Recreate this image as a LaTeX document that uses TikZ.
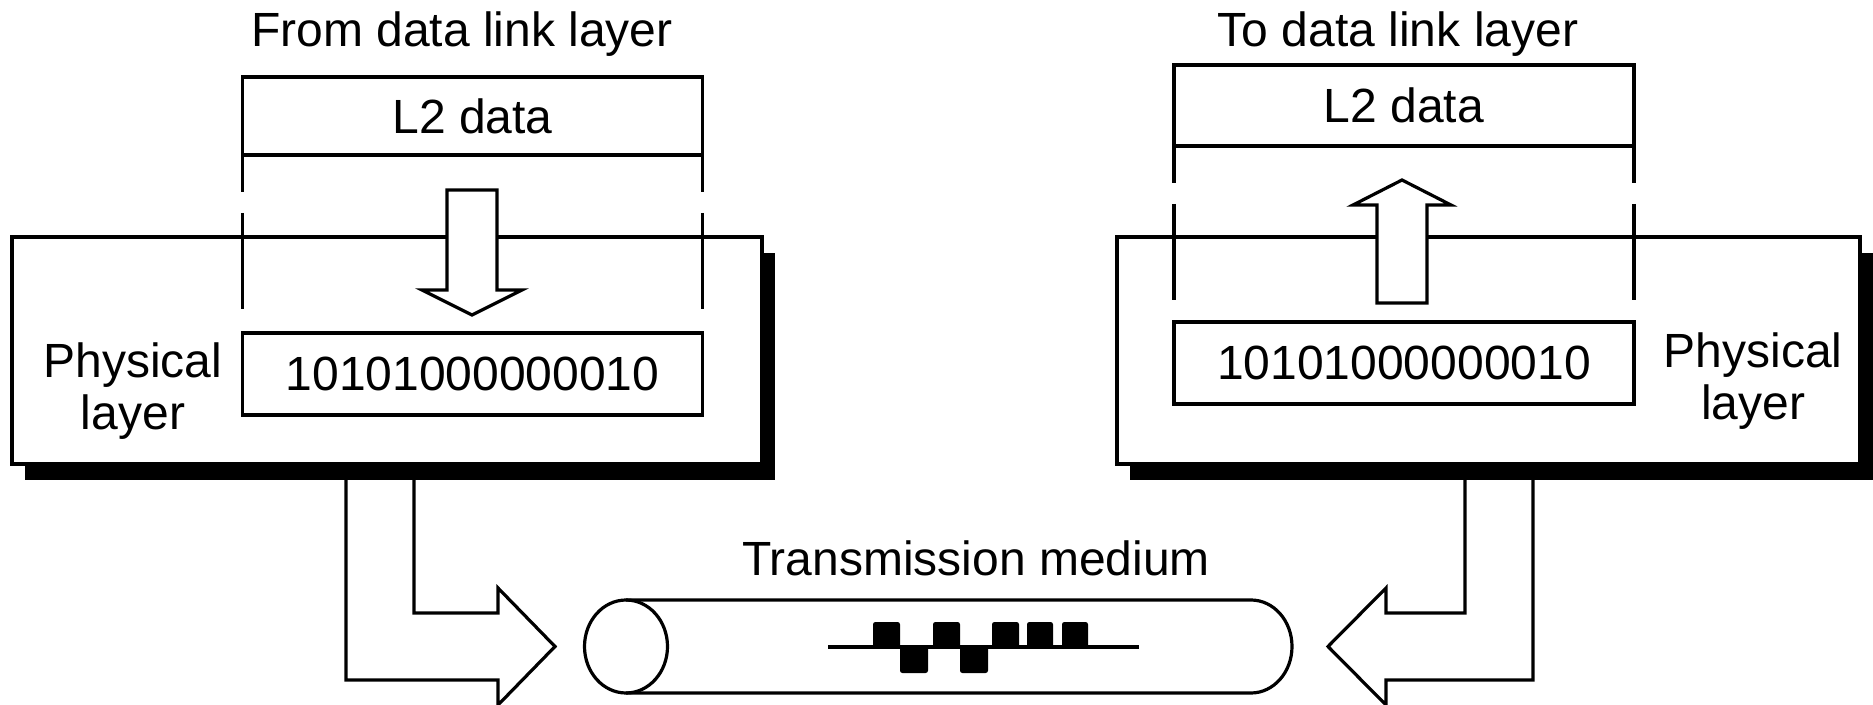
\documentclass[tikz,border=0pt]{standalone}
\usepackage{fontspec}
\setmainfont{Liberation Sans}
\usetikzlibrary{shadows}

\begin{document}
\begin{tikzpicture}[x=0.5pt,y=-0.5pt,
  line width=1.6pt,
  every node/.style={font=\fontsize{24}{26}\selectfont, inner sep=0pt, outer sep=0pt},
  layerbox/.style={draw, fill=white, minimum height=113.5pt,
    drop shadow={shadow xshift=6.5pt, shadow yshift=-8pt, fill=black, opacity=1}},
  databox/.style={draw, fill=white, minimum width=230pt},
  guide/.style={dash pattern=on 18.5pt off 10.5pt on 48pt off 12pt},
  blockarrow/.style={draw, fill=white, line join=miter},
  wire/.style={line join=miter},
  pulse/.style={fill=black, rounded corners=1.2pt},
]
\useasboundingbox (0,0) rectangle (1873,705);

% physical layer boxes with their shadows
\node[layerbox, minimum width=375pt]   (physL) at (387,350.5)  {};
\node[layerbox, minimum width=371.5pt] (physR) at (1488.5,350.5) {};

% sending side
\node[anchor=base] (fromL) at (462,46.5) {From data link layer};
\node[databox, minimum height=39pt] (l2L) at (472.5,116) {L2 data};
\node[databox, minimum height=41pt] (bitL) at (472.5,374) {10101000000010};
\node[align=center] (phyLabL) at (133,391) {Physical\\layer};
\draw[guide] (l2L.south west) -- (bitL.north west);
\draw[guide] (l2L.south east) -- (bitL.north east);
\draw[blockarrow] (447,190) -- (497,190) -- (497,290) -- (522,290)
  -- (472,315) -- (422,290) -- (447,290) -- cycle;

% receiving side
\node[anchor=base] (toR) at (1398,46.5) {To data link layer};
\node[databox, minimum height=40.5pt] (l2R) at (1404,105.5) {L2 data};
\node[databox, minimum height=41pt] (bitR) at (1404,363) {10101000000010};
\node[align=center] (phyLabR) at (1753,381) {Physical\\layer};
\draw[guide] (l2R.south west) -- (bitR.north west);
\draw[guide] (l2R.south east) -- (bitR.north east);
\draw[blockarrow] (1377,303) -- (1427,303) -- (1427,205) -- (1451,205)
  -- (1402,180) -- (1353,205) -- (1377,205) -- cycle;

% bent arrows into the medium
\draw[wire] (346,470) -- (346,680) -- (498,680) -- (498,705) -- (555,646.5)
  -- (498,588) -- (498,613) -- (414,613) -- (414,470);
\draw[wire] (1465,470) -- (1465,613) -- (1386,613) -- (1386,588) -- (1328,646.5)
  -- (1386,705) -- (1386,680) -- (1533,680) -- (1533,470);

% transmission medium (cable)
\node[anchor=base] (medium) at (976,575) {Transmission medium};
\draw (626,600) -- (1251,600)
  arc[start angle=-90, end angle=90, x radius=41, y radius=46.5] -- (626,693);
\draw (626,646.5) ellipse[x radius=41.5, y radius=46.5];

% line signal
\draw[line width=2pt] (828,647) -- (1139,647);
\fill[pulse] (873,622) rectangle (900,648);
\fill[pulse] (900,646) rectangle (928,673);
\fill[pulse] (933,622) rectangle (960,648);
\fill[pulse] (960,646) rectangle (988,673);
\fill[pulse] (992,622) rectangle (1019,648);
\fill[pulse] (1027,622) rectangle (1053,648);
\fill[pulse] (1062,622) rectangle (1088,648);
\end{tikzpicture}
\end{document}
